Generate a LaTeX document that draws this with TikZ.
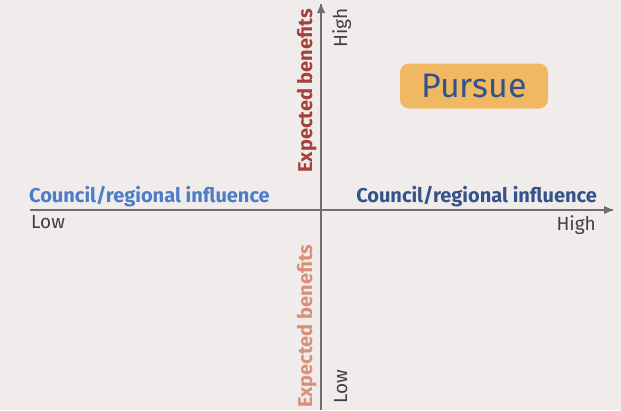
\documentclass[tikz,border=0pt]{standalone}
\usepackage{fontspec}
\setmainfont{Fira Sans}
\usetikzlibrary{arrows.meta}

\definecolor{bgcol}{HTML}{F0ECEB}
\definecolor{axiscol}{HTML}{6E6E6E}
\definecolor{benhigh}{HTML}{A6403A}
\definecolor{benlow}{HTML}{D98F78}
\definecolor{inflow}{HTML}{4C7DC6}
\definecolor{infhigh}{HTML}{34538A}
\definecolor{boxcol}{HTML}{F0B862}

\tikzset{
  axis/.style={draw=axiscol, line width=1.4pt},
  lvl/.style={text=black!75, font=\fontsize{19}{21}\selectfont, inner sep=0pt},
  title/.style={font=\fontsize{20}{23}\selectfont\bfseries, inner sep=0pt}
}

\begin{document}
\begin{tikzpicture}[x=1pt,y=-1pt]
        \fill[bgcol] (0,0) rectangle (621,410);
        \useasboundingbox (0,0) rectangle (621,410);

        \coordinate (xl) at (30,210);
        \coordinate (xr) at (613,210);
        \coordinate (yb) at (321,410);
        \coordinate (yt) at (321,4);

        \draw[axis] (xl) -- (xr);
        \draw[axis] (yb) -- (yt);
        \fill[axiscol] (xr) -- ++(-9,-4) -- ++(0,8) -- cycle;
        \fill[axiscol] (yt) -- ++(-4,9) -- ++(8,0) -- cycle;

        \node[title, text=inflow, anchor=base west] (infl) at (29,202) {Council/regional influence};
        \node[title, text=infhigh, anchor=base east] (infh) at (597,202) {Council/regional influence};
        \node[lvl, anchor=base west] (low) at (31,228) {Low};
        \node[lvl, anchor=base east] (high) at (596,230) {High};

        \node[title, text=benhigh, rotate=90, anchor=base east] (benh) at (312,9) {Expected benefits};
        \node[title, text=benlow, rotate=90, anchor=base west] (benl) at (312,408) {Expected benefits};
        \node[lvl, rotate=90, anchor=base east] (vhigh) at (347,8) {High};
        \node[lvl, rotate=90, anchor=base west] (vlow) at (347,404) {Low};

        \node[fill=boxcol, rounded corners=9pt, minimum width=148pt, minimum height=45pt,
              text=infhigh, font=\fontsize{34}{37}\selectfont] (pursue) at (474,86) {Pursue};
\end{tikzpicture}
\end{document}
